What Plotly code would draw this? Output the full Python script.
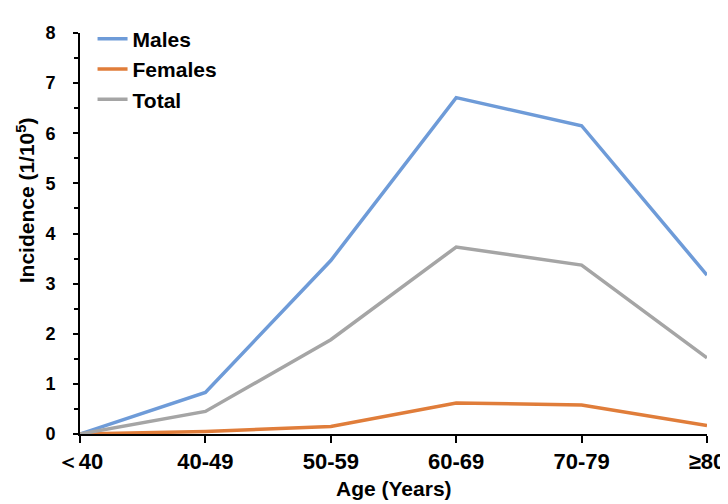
import plotly.graph_objects as go

age_groups = ["＜40", "40-49", "50-59", "60-69", "70-79", "≥80"]
males = [0, 0.83, 3.46, 6.71, 6.15, 3.17]
females = [0, 0.05, 0.15, 0.62, 0.58, 0.17]
total = [0, 0.45, 1.88, 3.73, 3.37, 1.52]

series = [
    ("Males", males, "#6e9bd8"),
    ("Females", females, "#e07d3a"),
    ("Total", total, "#a5a5a5"),
]

FONT = "Liberation Sans, Arial, sans-serif"

fig = go.Figure()
for name, vals, color in series:
    fig.add_trace(go.Scatter(
        x=list(range(len(age_groups))), y=vals, name=name, mode="lines",
        line=dict(color=color, width=3.5), legendgroup=name,
    ))

fig.update_layout(
    width=728, height=504,
    margin=dict(l=72, r=19, t=11, b=78),
    paper_bgcolor="white", plot_bgcolor="white",
    font=dict(family=FONT, color="black"),
    legend=dict(
        x=0.02, y=1.036, xanchor="left", yanchor="top",
        font=dict(size=21, family=FONT, weight="bold"),
        bgcolor="rgba(0,0,0,0)", tracegroupgap=0,
    ),
    xaxis=dict(
        range=[0, 5], tickmode="array",
        tickvals=list(range(len(age_groups))), ticktext=age_groups,
        showgrid=False, zeroline=False, showline=True,
        linecolor="black", linewidth=2,
        ticks="outside", ticklen=7, tickwidth=2, tickcolor="black",
        tickfont=dict(size=22, family=FONT, weight="bold"),
        ticklabelstandoff=0,
    ),
    yaxis=dict(
        range=[0, 8], dtick=1,
        showgrid=False, zeroline=False, showline=True,
        linecolor="black", linewidth=2,
        ticks="outside", ticklen=5, tickwidth=2, tickcolor="black",
        minor=dict(dtick=0.5, ticks="outside", ticklen=4, tickwidth=2, tickcolor="black"),
        tickfont=dict(size=18, family=FONT, weight="bold"),
        ticklabelstandoff=14,
    ),
    annotations=[
        dict(text="Age (Years)", xref="paper", yref="paper", x=0.5, y=-0.136,
             xanchor="center", yanchor="middle", showarrow=False,
             font=dict(size=21, family=FONT, weight="bold")),
        dict(text="Incidence (1/10<sup>5</sup>)", xref="paper", yref="paper",
             x=-0.087, y=0.584, xanchor="center", yanchor="middle", textangle=-90,
             showarrow=False, font=dict(size=21, family=FONT, weight="bold")),
    ],
)

fig.write_html("out.html")
